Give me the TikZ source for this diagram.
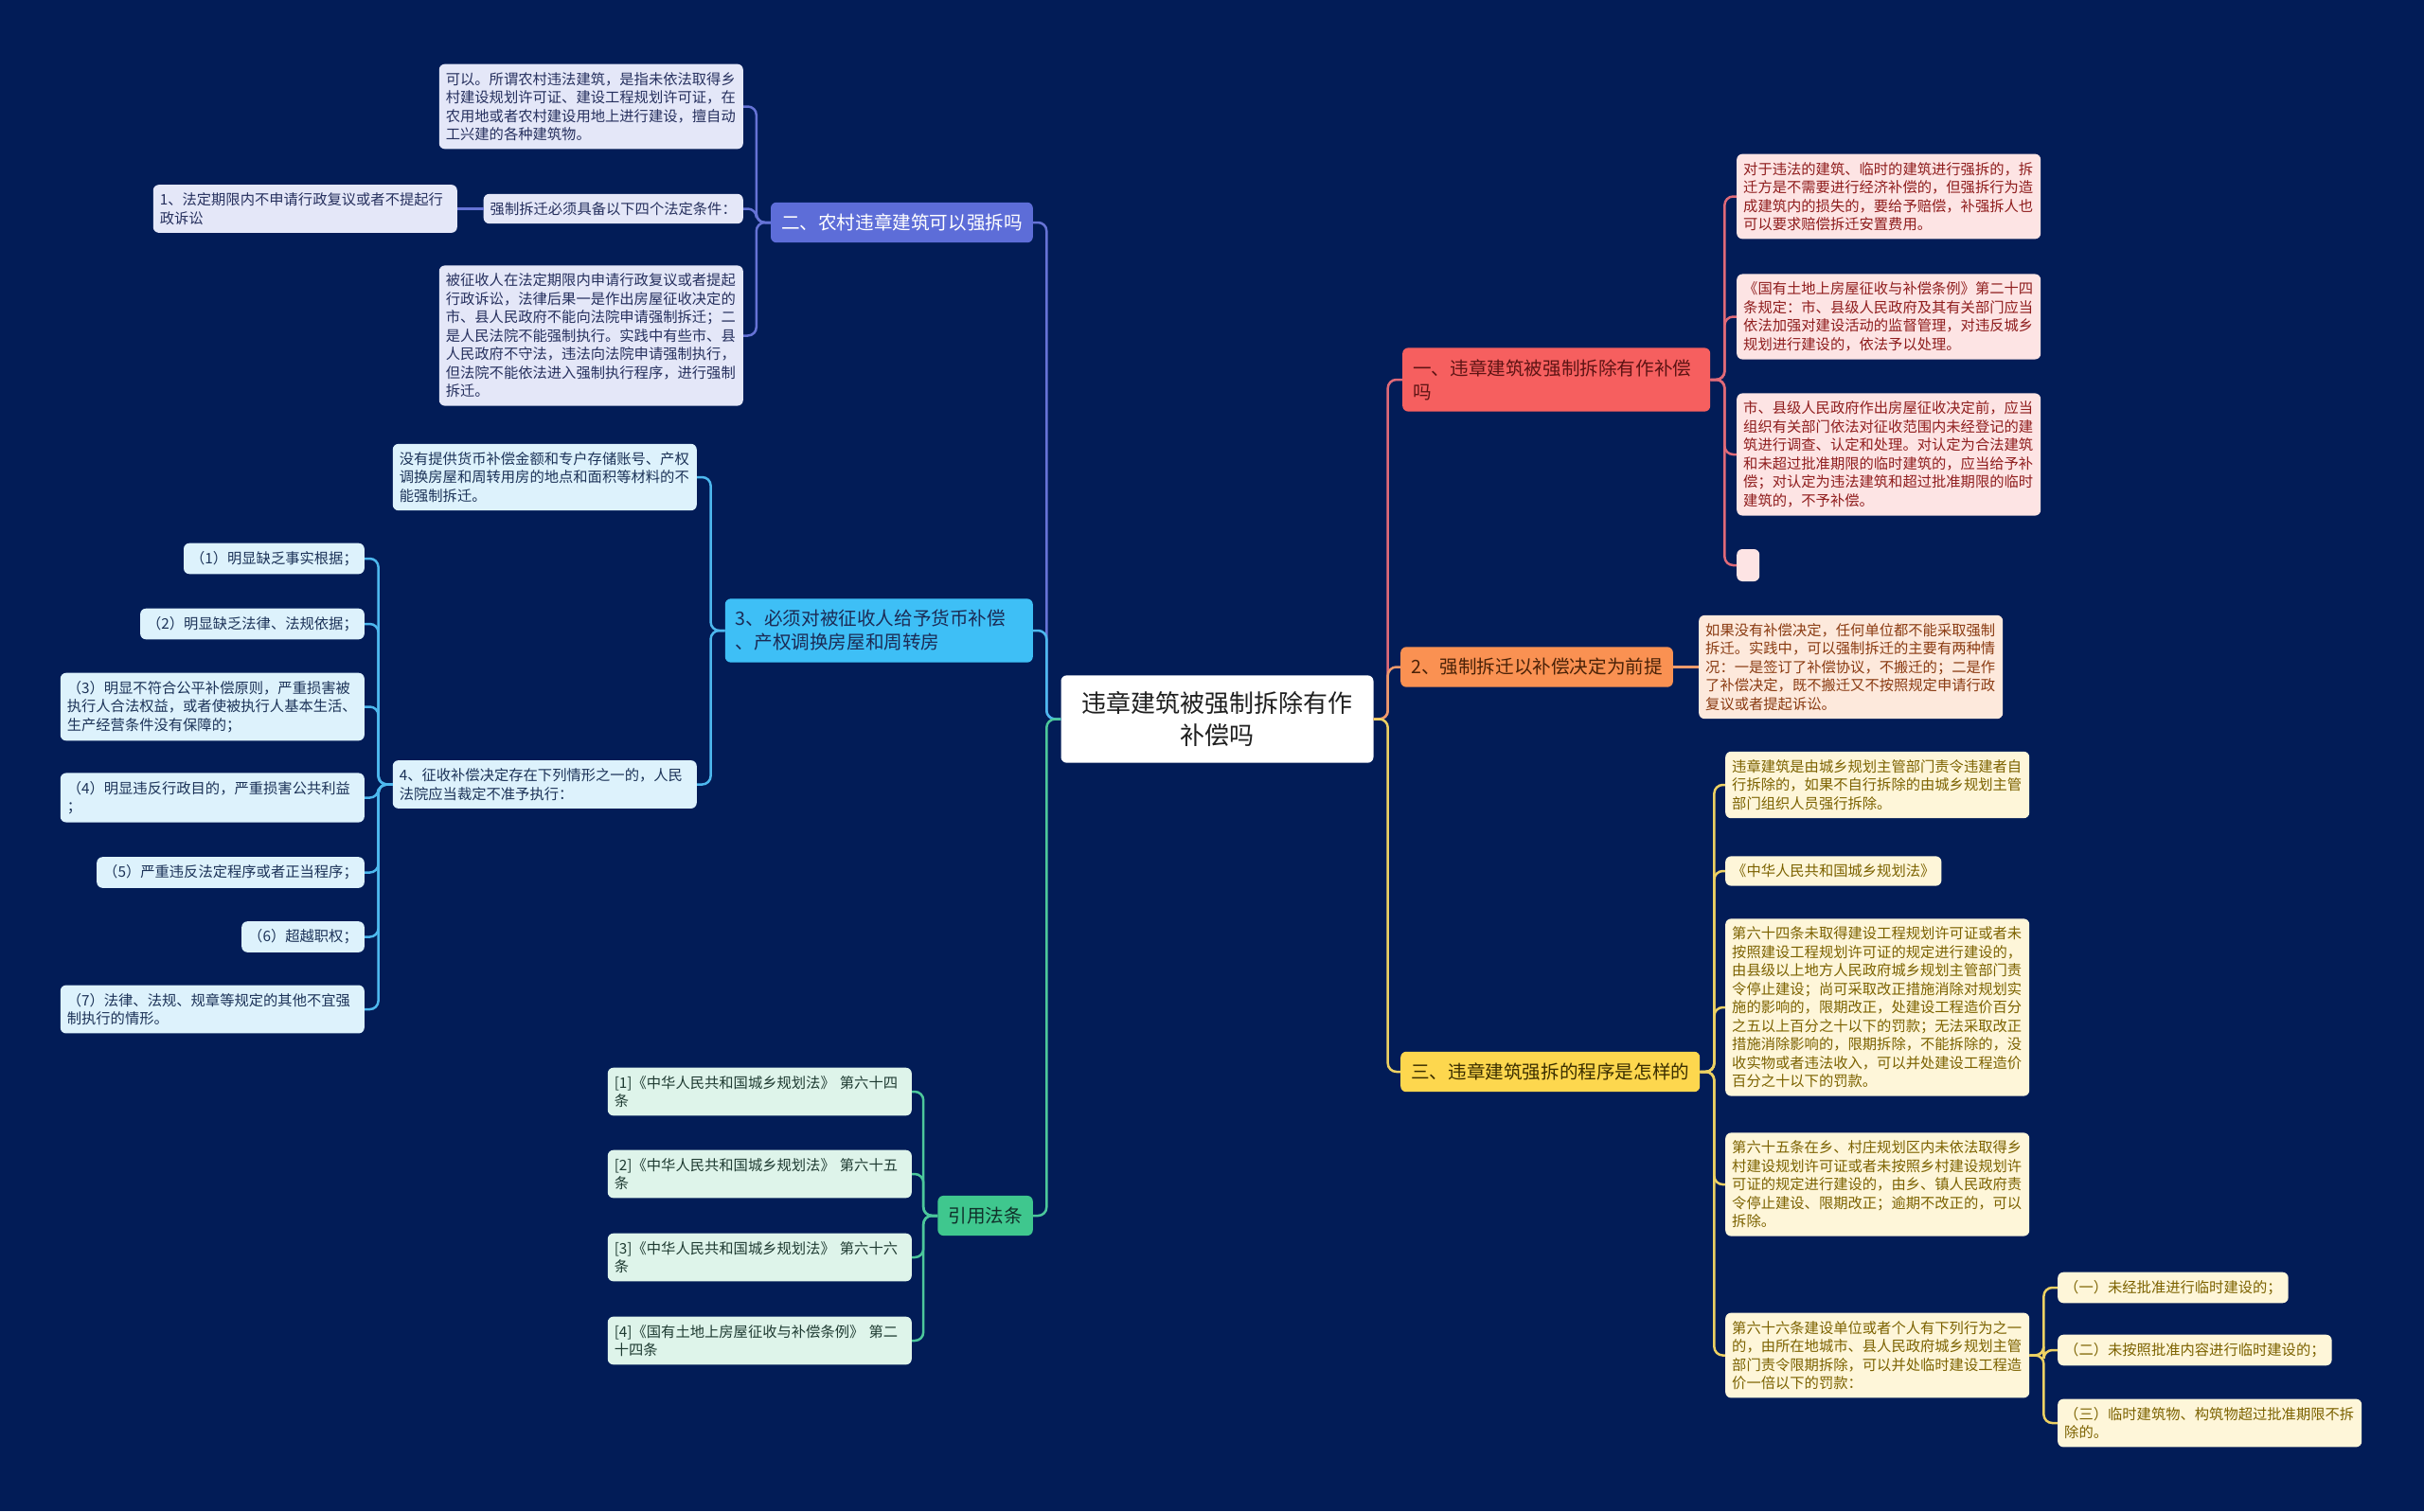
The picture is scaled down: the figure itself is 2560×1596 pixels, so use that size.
\documentclass[tikz,border=0pt]{standalone}
\usepackage{fontspec}
\setmainfont{Noto Sans CJK SC}
\usetikzlibrary{calc}
\definecolor{bg}{HTML}{021C57}
\definecolor{lnP}{HTML}{6673D6}\definecolor{fP}{HTML}{5D6DD8}\definecolor{lfP}{HTML}{E4E7F8}\definecolor{ltP}{HTML}{26305E}
\definecolor{lnB}{HTML}{4DB8EE}\definecolor{fB}{HTML}{3EBFF6}\definecolor{lfB}{HTML}{DDF2FC}\definecolor{ltB}{HTML}{1C3358}\definecolor{ntB}{HTML}{1B2B55}
\definecolor{lnG}{HTML}{4CC79B}\definecolor{fG}{HTML}{3FC78E}\definecolor{lfG}{HTML}{DEF4EA}\definecolor{ltG}{HTML}{1F3B32}\definecolor{ntG}{HTML}{10302A}
\definecolor{lnR}{HTML}{E06A78}\definecolor{fR}{HTML}{F65F5F}\definecolor{lfR}{HTML}{FDE4E4}\definecolor{ltR}{HTML}{8F1D1D}\definecolor{ntR}{HTML}{5E1414}
\definecolor{lnO}{HTML}{EE9A6C}\definecolor{fO}{HTML}{FA9152}\definecolor{lfO}{HTML}{FDE9DC}\definecolor{ltO}{HTML}{8A3B12}\definecolor{ntO}{HTML}{4A2208}
\definecolor{lnY}{HTML}{EDD163}\definecolor{fY}{HTML}{FDD74E}\definecolor{lfY}{HTML}{FEF6D9}\definecolor{ltY}{HTML}{7C6200}\definecolor{ntY}{HTML}{3A2E00}
\tikzset{
  leaf/.style={rounded corners=6pt, inner xsep=7pt, inner ysep=8.5pt, font=\fontsize{15.3pt}{19.5pt}\selectfont, align=left},
  wrap/.style={text width=307pt},
  branch/.style={rounded corners=6pt, inner xsep=11pt, inner ysep=12pt, font=\fontsize{19.6pt}{25pt}\selectfont, align=left},
  rootbox/.style={rounded corners=6pt, fill=white, text=black!88, inner xsep=22pt, inner ysep=17pt, font=\fontsize{26pt}{34pt}\selectfont, align=center},
  lP/.style={leaf, fill=lfP, text=ltP}, lB/.style={leaf, fill=lfB, text=ltB}, lG/.style={leaf, fill=lfG, text=ltG},
  lR/.style={leaf, fill=lfR, text=ltR}, lO/.style={leaf, fill=lfO, text=ltO}, lY/.style={leaf, fill=lfY, text=ltY},
  conn/.style={line width=2.5pt, rounded corners=9pt}
}
\newcommand\myR[3]{\draw[conn,#1] (#2.east) -- ++(15,0) |- (#3.west);}
\newcommand\myL[3]{\draw[conn,#1] (#2.west) -- ++(-15,0) |- (#3.east);}
\begin{document}
\begin{tikzpicture}[x=1pt,y=-1pt]
\useasboundingbox (0,0) rectangle (2560,1596);
\fill[bg] (0,0) rectangle (2560,1596);

% root and branches
\node[rootbox] (root) at (1285.5,759.5) {违章建筑被强制拆除有作\\补偿吗};
\node[branch, fill=fP, text=white, anchor=east] (n2) at (1091,235) {二、农村违章建筑可以强拆吗};
\node[branch, fill=fB, text=ntB, anchor=east, text width=303pt] (n3) at (1091,666) {3、必须对被征收人给予货币补偿\\、产权调换房屋和周转房};
\node[branch, fill=fG, text=ntG, anchor=east] (ny) at (1091,1284) {引用法条};
\node[branch, fill=fR, text=ntR, anchor=west, text width=303pt] (n1) at (1481,401) {一、违章建筑被强制拆除有作补偿\\吗};
\node[branch, fill=fO, text=ntO, anchor=west] (nf) at (1479,704.5) {2、强制拆迁以补偿决定为前提};
\node[branch, fill=fY, text=ntY, anchor=west] (ng) at (1479,1132) {三、违章建筑强拆的程序是怎样的};

% branch 二
\node[lP, wrap, anchor=east] (a1) at (785,112.5) {可以。所谓农村违法建筑，是指未依法取得乡\\村建设规划许可证、建设工程规划许可证，在\\农用地或者农村建设用地上进行建设，擅自动\\工兴建的各种建筑物。};
\node[lP, anchor=east] (a2) at (785,220.5) {强制拆迁必须具备以下四个法定条件：};
\node[lP, wrap, anchor=east] (a2a) at (483,220.5) {1、法定期限内不申请行政复议或者不提起行\\政诉讼};
\node[lP, wrap, anchor=east] (a3) at (785,354.5) {被征收人在法定期限内申请行政复议或者提起\\行政诉讼，法律后果一是作出房屋征收决定的\\市、县人民政府不能向法院申请强制拆迁；二\\是人民法院不能强制执行。实践中有些市、县\\人民政府不守法，违法向法院申请强制执行，\\但法院不能依法进入强制执行程序，进行强制\\拆迁。};

% branch 3
\node[lB, wrap, anchor=east] (b1) at (736,504) {没有提供货币补偿金额和专户存储账号、产权\\调换房屋和周转用房的地点和面积等材料的不\\能强制拆迁。};
\node[lB, wrap, anchor=east] (b2) at (736,828.5) {4、征收补偿决定存在下列情形之一的，人民\\法院应当裁定不准予执行：};
\node[lB, anchor=east] (c1) at (385,590) {（1）明显缺乏事实根据；};
\node[lB, anchor=east] (c2) at (385,659) {（2）明显缺乏法律、法规依据；};
\node[lB, wrap, anchor=east] (c3) at (385,746.5) {（3）明显不符合公平补偿原则，严重损害被\\执行人合法权益，或者使被执行人基本生活、\\生产经营条件没有保障的；};
\node[lB, wrap, anchor=east] (c4) at (385,842.5) {（4）明显违反行政目的，严重损害公共利益\\；};
\node[lB, anchor=east] (c5) at (385,921.5) {（5）严重违反法定程序或者正当程序；};
\node[lB, anchor=east] (c6) at (385,989.5) {（6）超越职权；};
\node[lB, wrap, anchor=east] (c7) at (385,1066) {（7）法律、法规、规章等规定的其他不宜强\\制执行的情形。};

% branch 引用法条
\node[lG, wrap, anchor=east] (d1) at (963,1153) {[1]《中华人民共和国城乡规划法》 第六十四\\条};
\node[lG, wrap, anchor=east] (d2) at (963,1240) {[2]《中华人民共和国城乡规划法》 第六十五\\条};
\node[lG, wrap, anchor=east] (d3) at (963,1328) {[3]《中华人民共和国城乡规划法》 第六十六\\条};
\node[lG, wrap, anchor=east] (d4) at (963,1416) {[4]《国有土地上房屋征收与补偿条例》 第二\\十四条};

% branch 一
\node[lR, wrap, anchor=west] (e1) at (1834,207.5) {对于违法的建筑、临时的建筑进行强拆的，拆\\迁方是不需要进行经济补偿的，但强拆行为造\\成建筑内的损失的，要给予赔偿，补强拆人也\\可以要求赔偿拆迁安置费用。};
\node[lR, wrap, anchor=west] (e2) at (1834,334.5) {《国有土地上房屋征收与补偿条例》第二十四\\条规定：市、县级人民政府及其有关部门应当\\依法加强对建设活动的监督管理，对违反城乡\\规划进行建设的，依法予以处理。};
\node[lR, wrap, anchor=west] (e3) at (1834,480) {市、县级人民政府作出房屋征收决定前，应当\\组织有关部门依法对征收范围内未经登记的建\\筑进行调查、认定和处理。对认定为合法建筑\\和未超过批准期限的临时建筑的，应当给予补\\偿；对认定为违法建筑和超过批准期限的临时\\建筑的，不予补偿。};
\node[lR, anchor=west, inner sep=0pt, minimum width=24pt, minimum height=34pt] (e4) at (1834,597) {};

% branch 2
\node[lO, wrap, anchor=west] (f1) at (1794,704.5) {如果没有补偿决定，任何单位都不能采取强制\\拆迁。实践中，可以强制拆迁的主要有两种情\\况：一是签订了补偿协议，不搬迁的；二是作\\了补偿决定，既不搬迁又不按照规定申请行政\\复议或者提起诉讼。};

% branch 三
\node[lY, wrap, anchor=west] (g1) at (1822,829) {违章建筑是由城乡规划主管部门责令违建者自\\行拆除的，如果不自行拆除的由城乡规划主管\\部门组织人员强行拆除。};
\node[lY, anchor=west] (g2) at (1822,920) {《中华人民共和国城乡规划法》};
\node[lY, wrap, anchor=west] (g3) at (1822,1064) {第六十四条未取得建设工程规划许可证或者未\\按照建设工程规划许可证的规定进行建设的，\\由县级以上地方人民政府城乡规划主管部门责\\令停止建设；尚可采取改正措施消除对规划实\\施的影响的，限期改正，处建设工程造价百分\\之五以上百分之十以下的罚款；无法采取改正\\措施消除影响的，限期拆除，不能拆除的，没\\收实物或者违法收入，可以并处建设工程造价\\百分之十以下的罚款。};
\node[lY, wrap, anchor=west] (g4) at (1822,1251) {第六十五条在乡、村庄规划区内未依法取得乡\\村建设规划许可证或者未按照乡村建设规划许\\可证的规定进行建设的，由乡、镇人民政府责\\令停止建设、限期改正；逾期不改正的，可以\\拆除。};
\node[lY, wrap, anchor=west] (g5) at (1822,1431.5) {第六十六条建设单位或者个人有下列行为之一\\的，由所在地城市、县人民政府城乡规划主管\\部门责令限期拆除，可以并处临时建设工程造\\价一倍以下的罚款：};
\node[lY, anchor=west] (h1) at (2173,1360) {（一）未经批准进行临时建设的；};
\node[lY, anchor=west] (h2) at (2173,1426) {（二）未按照批准内容进行临时建设的；};
\node[lY, wrap, anchor=west] (h3) at (2173,1503) {（三）临时建筑物、构筑物超过批准期限不拆\\除的。};

% connectors
\begin{scope}[on background layer/.style={}]
\myL{lnP}{root}{n2}
\myL{lnB}{root}{n3}
\myL{lnG}{root}{ny}
\myR{lnR}{root}{n1}
\myR{lnO}{root}{nf}
\myR{lnY}{root}{ng}

\myL{lnP}{n2}{a1}
\myL{lnP}{n2}{a2}
\myL{lnP}{n2}{a3}
\draw[conn,lnP] (a2.west) -- (a2a.east);

\myL{lnB}{n3}{b1}
\myL{lnB}{n3}{b2}
\myL{lnB}{b2}{c1}
\myL{lnB}{b2}{c2}
\myL{lnB}{b2}{c3}
\myL{lnB}{b2}{c4}
\myL{lnB}{b2}{c5}
\myL{lnB}{b2}{c6}
\myL{lnB}{b2}{c7}

\myL{lnG}{ny}{d1}
\myL{lnG}{ny}{d2}
\myL{lnG}{ny}{d3}
\myL{lnG}{ny}{d4}

\myR{lnR}{n1}{e1}
\myR{lnR}{n1}{e2}
\myR{lnR}{n1}{e3}
\myR{lnR}{n1}{e4}

\draw[conn,lnO] (nf.east) -- (f1.west);

\myR{lnY}{ng}{g1}
\myR{lnY}{ng}{g2}
\myR{lnY}{ng}{g3}
\myR{lnY}{ng}{g4}
\myR{lnY}{ng}{g5}
\myR{lnY}{g5}{h1}
\myR{lnY}{g5}{h2}
\myR{lnY}{g5}{h3}
\end{scope}
\end{tikzpicture}
\end{document}
